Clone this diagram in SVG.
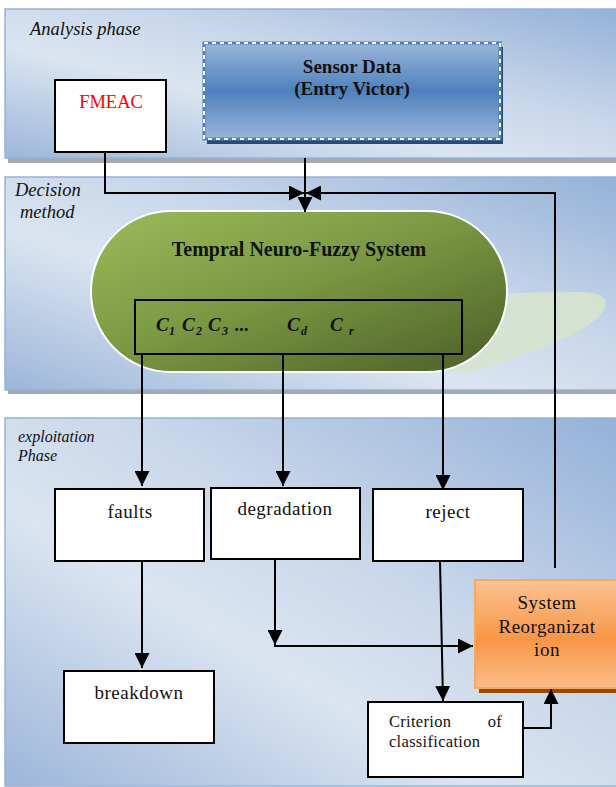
<svg xmlns="http://www.w3.org/2000/svg" width="616" height="787" viewBox="0 0 616 787">
<defs>
<linearGradient id="panelG" x1="0" y1="1" x2="1" y2="0">
<stop offset="0" stop-color="#9cb6d9"/>
<stop offset="0.38" stop-color="#dbe5f1"/>
<stop offset="0.6" stop-color="#c9d7ea"/>
<stop offset="1" stop-color="#93b1d7"/>
</linearGradient>
<linearGradient id="greenG" x1="0" y1="0" x2="1" y2="1">
<stop offset="0" stop-color="#9bbb59"/>
<stop offset="0.45" stop-color="#7c9a44"/>
<stop offset="1" stop-color="#4b5e27"/>
</linearGradient>
<linearGradient id="blueG" x1="0" y1="0" x2="0" y2="1">
<stop offset="0" stop-color="#9ab5d9"/>
<stop offset="0.5" stop-color="#4f81bd"/>
<stop offset="1" stop-color="#9ab5d9"/>
</linearGradient>
<linearGradient id="orangeG" x1="0" y1="0" x2="0" y2="1">
<stop offset="0" stop-color="#fbc392"/>
<stop offset="0.55" stop-color="#f79646"/>
<stop offset="1" stop-color="#fbbd8a"/>
</linearGradient>
<marker id="arr" markerUnits="userSpaceOnUse" markerWidth="15" markerHeight="15" refX="15" refY="7.5" orient="auto">
<path d="M0,0 L15,7.5 L0,15 Z" fill="#000"/>
</marker>
<style>
.panel{fill:url(#panelG);stroke:#95b3d7;stroke-width:1.5}
.pshadow{fill:#a5a9ae}
.plabel{font-family:"Liberation Serif",serif;font-style:italic;fill:#111}
.box{fill:#fff;stroke:#000;stroke-width:2}
.txt{font-family:"Liberation Serif",serif;font-size:19px;letter-spacing:0.5px;fill:#111;text-anchor:middle}
.bold{font-weight:bold;letter-spacing:0}
.small{font-size:16.5px;letter-spacing:0.3px;text-anchor:start}
.con{fill:none;stroke:#000;stroke-width:2}
.ar{marker-end:url(#arr)}
.ci{font-family:"Liberation Serif",serif;font-style:italic;font-weight:bold;fill:#111}
</style>
</defs>

<g id="panel-analysis">
<rect class="pshadow" x="8" y="158" width="610" height="5"/>
<rect class="panel" x="5" y="9" width="620" height="149"/>
<text class="plabel" x="30" y="35" font-size="18.5">Analysis phase</text>
</g>
<g id="panel-decision">
<rect class="pshadow" x="8" y="390" width="610" height="4"/>
<rect class="panel" x="5" y="177" width="620" height="213"/>
<text class="plabel" x="15" y="196" font-size="18.5">Decision</text>
<text class="plabel" x="20" y="218" font-size="18.5">method</text>
</g>
<g id="panel-exploitation">
<rect class="panel" x="5" y="418" width="620" height="368"/>
<text class="plabel" x="18" y="442" font-size="16">exploitation</text>
<text class="plabel" x="18" y="461" font-size="16">Phase</text>
</g>

<g id="fmeac">
<rect class="box" x="55" y="80" width="111" height="72"/>
<text class="txt" x="111" y="108" style="fill:#ff0000;font-size:18.5px;letter-spacing:0">FMEAC</text>
</g>

<g id="sensor-data">
<rect x="207" y="47" width="296" height="97" fill="#2a4a72"/>
<rect x="204" y="43" width="296" height="96" fill="url(#blueG)" stroke="#4f81bd" stroke-width="3"/>
<rect x="204" y="43" width="296" height="96" fill="none" stroke="#fff" stroke-width="2" stroke-dasharray="4 4"/>
<text class="txt bold" x="352" y="73">Sensor Data</text>
<text class="txt bold" x="352" y="95">(Entry Victor)</text>
</g>

<g id="neuro-fuzzy">
<path d="M430,300 Q480,292 585,292 Q612,294 604,310 Q588,338 470,372 Q440,378 430,350 Z" fill="#d6e3cf" opacity="0.9"/>
<rect x="91" y="211" width="416" height="161" rx="80" ry="80" fill="url(#greenG)" stroke="#fff" stroke-width="2"/>
<text class="txt bold" x="299" y="256" style="font-size:20px">Tempral Neuro-Fuzzy System</text>
<rect x="135" y="300" width="327" height="54" fill="none" stroke="#000" stroke-width="2"/>
<text class="ci" font-size="19">
<tspan x="156" y="331">C</tspan><tspan x="169" y="335" font-size="12">1</tspan>
<tspan x="182" y="331">C</tspan><tspan x="196" y="335" font-size="12">2</tspan>
<tspan x="208" y="331">C</tspan><tspan x="222" y="335" font-size="12">3</tspan>
<tspan x="235" y="331">...</tspan>
<tspan x="287" y="331">C</tspan><tspan x="301" y="335" font-size="12">d</tspan>
<tspan x="330" y="331">C</tspan><tspan x="349" y="335" font-size="12">r</tspan>
</text>
</g>

<g id="faults">
<rect class="box" x="55" y="489" width="149" height="72"/>
<text class="txt" x="130" y="518">faults</text>
</g>
<g id="degradation">
<rect class="box" x="211" y="488" width="149" height="71"/>
<text class="txt" x="285" y="515">degradation</text>
</g>
<g id="reject">
<rect class="box" x="373" y="489" width="150" height="72"/>
<text class="txt" x="448" y="518">reject</text>
</g>
<g id="breakdown">
<rect class="box" x="64" y="671" width="150" height="72"/>
<text class="txt" x="139" y="699">breakdown</text>
</g>
<g id="criterion">
<rect class="box" x="368" y="702" width="155" height="75"/>
<text class="txt small" x="389" y="727">Criterion</text>
<text class="txt small" x="502" y="727" style="text-anchor:end">of</text>
<text class="txt small" x="389" y="747">classification</text>
</g>
<g id="system-reorganization">
<rect x="479" y="684" width="140" height="9" fill="#984807"/>
<rect x="475" y="580" width="150" height="108" fill="url(#orangeG)" stroke="#f9a862" stroke-width="2"/>
<text class="txt" x="547" y="609">System</text>
<text class="txt" x="547" y="633">Reorganizat</text>
<text class="txt" x="547" y="656">ion</text>
</g>

<g id="connectors">
<path class="con ar" d="M105,152 V193 H304"/>
<path class="con ar" d="M555,568 V193 H306"/>
<path class="con ar" d="M305,158 V212"/>
<path class="con ar" d="M142,354 V486"/>
<path class="con ar" d="M283,354 V486"/>
<path class="con ar" d="M443,354 V490"/>
<path class="con ar" d="M142,561 V668"/>
<path class="con ar" d="M275,559 V645"/>
<path class="con ar" d="M274,646 H473"/>
<path class="con ar" d="M440,561 L443,701"/>
<path class="con ar" d="M523,728 H551 V689"/>
</g>
</svg>
